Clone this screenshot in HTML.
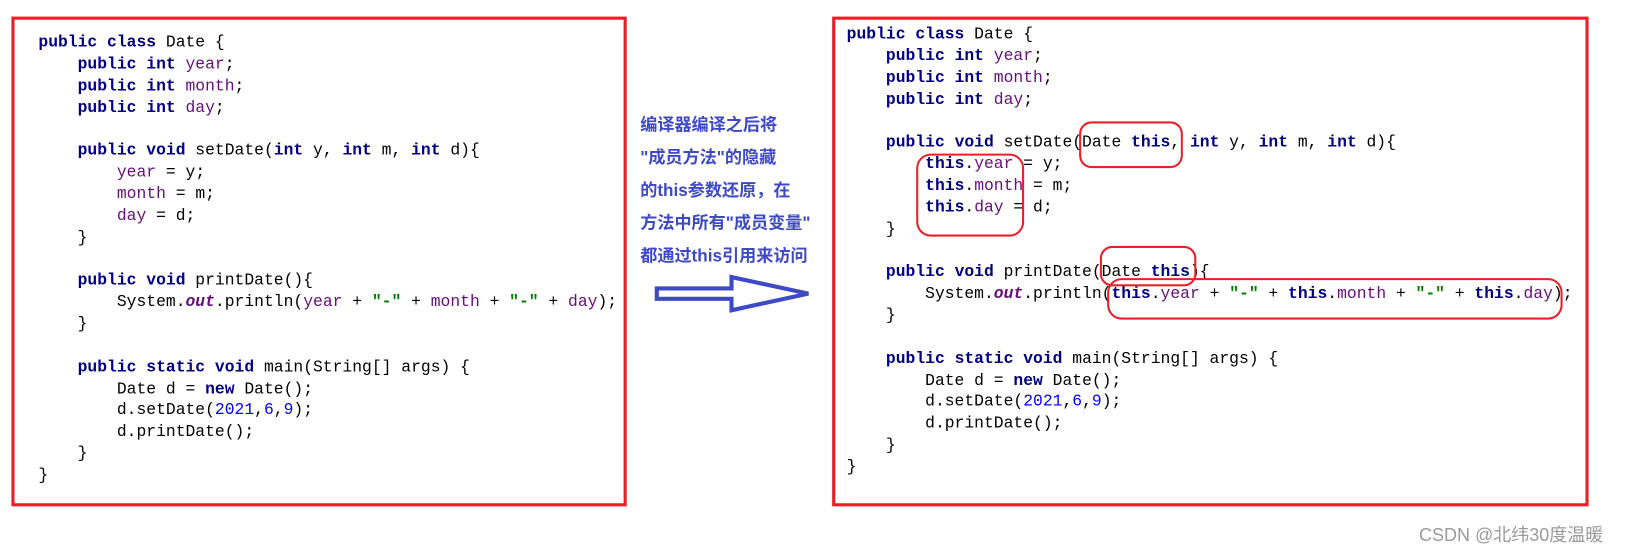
<!DOCTYPE html>
<html><head><meta charset="utf-8"><style>
html,body{margin:0;padding:0;background:#fff;width:1627px;height:549px;overflow:hidden;position:relative}
#w{position:absolute;left:0;top:0;width:1568px;height:529px;transform:scale(1.0376);transform-origin:0 0}
.box{position:absolute;border:3px solid #ee1c25;box-sizing:border-box}
.code{position:absolute;font-family:"Liberation Mono",monospace;font-size:15.75px;line-height:20.85px;white-space:pre;color:#000}
.k{color:#000080;font-weight:bold}
.f{color:#660e7a}
.s{color:#008000;font-weight:bold}
.n{color:#0000ff}
.i{color:#660e7a;font-style:italic;font-weight:bold}
.r{position:absolute;border:2px solid #e8202a;border-radius:12px;box-sizing:border-box}
.t{position:absolute;left:617px;font-family:"Liberation Sans","Noto Sans CJK SC",sans-serif;font-weight:bold;font-size:16.5px;color:#3d4ac4;white-space:nowrap}
</style></head><body>
<div id="w">
<div class="box" style="left:11px;top:16px;width:593px;height:472px"></div>
<div class="code" style="left:37px;top:31px"><span class="k">public class</span> Date {
    <span class="k">public int</span> <span class="f">year</span>;
    <span class="k">public int</span> <span class="f">month</span>;
    <span class="k">public int</span> <span class="f">day</span>;

    <span class="k">public void</span> setDate(<span class="k">int</span> y, <span class="k">int</span> m, <span class="k">int</span> d){
        <span class="f">year</span> = y;
        <span class="f">month</span> = m;
        <span class="f">day</span> = d;
    }

    <span class="k">public void</span> printDate(){
        System.<span class="i">out</span>.println(<span class="f">year</span> + <span class="s">"-"</span> + <span class="f">month</span> + <span class="s">"-"</span> + <span class="f">day</span>);
    }

    <span class="k">public static void</span> main(String[] args) {
        Date d = <span class="k">new</span> Date();
        d.setDate(<span class="n">2021</span>,<span class="n">6</span>,<span class="n">9</span>);
        d.printDate();
    }
}</div>

<div class="t" style="top:107px">编译器编译之后将</div>
<div class="t" style="top:138px">"成员方法"的隐藏</div>
<div class="t" style="top:170px">的this参数还原，在</div>
<div class="t" style="top:201px">方法中所有"成员变量"</div>
<div class="t" style="top:233px">都通过this引用来访问</div>
<svg style="position:absolute;left:625px;top:258px" width="165" height="50">
<polygon points="8,20 80,20 80,9 154,25 80,41 80,30 8,30" fill="#fff" stroke="#3d4ac4" stroke-width="4" stroke-linejoin="miter"/>
</svg>

<div class="box" style="left:802px;top:16px;width:729px;height:472px"></div>
<div class="code" style="left:816px;top:23px"><span class="k">public class</span> Date {
    <span class="k">public int</span> <span class="f">year</span>;
    <span class="k">public int</span> <span class="f">month</span>;
    <span class="k">public int</span> <span class="f">day</span>;

    <span class="k">public void</span> setDate(Date <span class="k">this</span>, <span class="k">int</span> y, <span class="k">int</span> m, <span class="k">int</span> d){
        <span class="k">this</span>.<span class="f">year</span> = y;
        <span class="k">this</span>.<span class="f">month</span> = m;
        <span class="k">this</span>.<span class="f">day</span> = d;
    }

    <span class="k">public void</span> printDate(Date <span class="k">this</span>){
        System.<span class="i">out</span>.println(<span class="k">this</span>.<span class="f">year</span> + <span class="s">"-"</span> + <span class="k">this</span>.<span class="f">month</span> + <span class="s">"-"</span> + <span class="k">this</span>.<span class="f">day</span>);
    }

    <span class="k">public static void</span> main(String[] args) {
        Date d = <span class="k">new</span> Date();
        d.setDate(<span class="n">2021</span>,<span class="n">6</span>,<span class="n">9</span>);
        d.printDate();
    }
}</div>
<div class="r" style="left:1040px;top:117px;width:100px;height:45px"></div>
<div class="r" style="left:883px;top:148px;width:104px;height:80px;border-radius:14px"></div>
<div class="r" style="left:1060px;top:237px;width:93px;height:39px"></div>
<div class="r" style="left:1067px;top:268px;width:439px;height:40px;border-radius:14px"></div>
</div>
<div style="position:absolute;left:1419px;top:521px;font-family:'Liberation Sans','Noto Sans CJK SC',sans-serif;font-size:18px;color:#9a9a9a;white-space:nowrap">CSDN @北纬30度温暖</div>
</body></html>
